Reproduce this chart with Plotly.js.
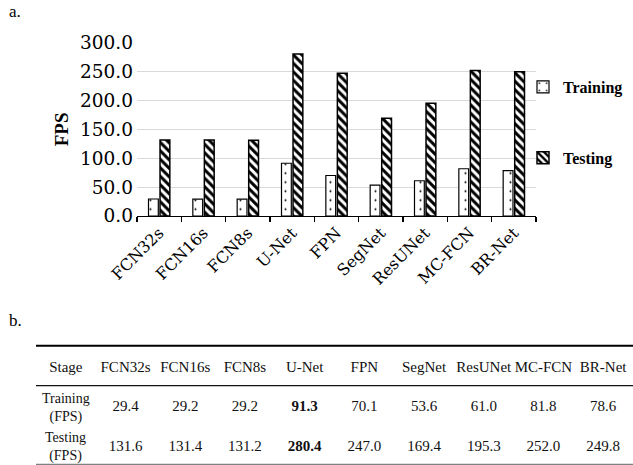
<!DOCTYPE html>
<html>
<head>
<meta charset="utf-8">
<script src="https://cdn.plot.ly/plotly-3.0.1.min.js"></script>
<style>html,body{margin:0;padding:0;background:#fff;}#chart{width:633px;height:465px;}</style>
</head>
<body>
<div id="chart"></div>
<script>
// ---- data ----
const models = ['FCN32s','FCN16s','FCN8s','U-Net','FPN','SegNet','ResUNet','MC-FCN','BR-Net'];
const trainingFPS = [29.4, 29.2, 29.2, 91.3, 70.1, 53.6, 61.0, 81.8, 78.6];
const testingFPS = [131.6, 131.4, 131.2, 280.4, 247.0, 169.4, 195.3, 252.0, 249.8];
const seriesNames = ['Training', 'Testing'];
const headerFirst = 'Stage';
const rowNames = ['Stage', 'Training', 'Testing'];
const unitLabel = '(FPS)';

// ---- layout helpers (pixel -> paper) ----
const W = 633, H = 465;
const px = x => x / W;
const py = y => 1 - y / H;

const serif = '"Liberation Serif", "Times New Roman", serif';
const wideSerif = '"DejaVu Serif", serif';

function fmtRow(vals) {
  const mx = Math.max(...vals);
  return vals.map(v => v === mx ? '<b>' + v.toFixed(1) + '</b>' : v.toFixed(1));
}

const traces = [
  {
    type: 'bar', name: seriesNames[0], x: models, y: trainingFPS,
    legendgroup: 'g1',
    marker: {
      color: '#ffffff',
      line: {color: '#000', width: 1.2},
      pattern: {shape: '.', size: 9, solidity: 0.04, fgcolor: '#000', bgcolor: '#ffffff'}
    },
    hoverinfo: 'skip'
  },
  {
    type: 'bar', name: seriesNames[1], x: models, y: testingFPS,
    legendgroup: 'g2',
    marker: {
      color: '#ffffff',
      line: {color: '#000', width: 1.5},
      pattern: {shape: '\\', size: 6, solidity: 0.5, fgcolor: '#000', bgcolor: '#ffffff'}
    },
    hoverinfo: 'skip'
  },
  // table: header row
  {
    type: 'scatter', mode: 'text', xaxis: 'x2', yaxis: 'y2',
    x: [headerFirst].concat(models),
    y: [headerFirst].concat(models).map(() => rowNames[0]),
    text: [headerFirst].concat(models),
    textfont: {family: serif, size: 15, color: '#111'},
    showlegend: false, hoverinfo: 'skip', cliponaxis: false
  },
  // table: training row
  {
    type: 'scatter', mode: 'text', xaxis: 'x2', yaxis: 'y2',
    x: models, y: models.map(() => rowNames[1]),
    text: fmtRow(trainingFPS),
    textfont: {family: serif, size: 15, color: '#111'},
    showlegend: false, hoverinfo: 'skip', cliponaxis: false
  },
  // table: testing row
  {
    type: 'scatter', mode: 'text', xaxis: 'x2', yaxis: 'y2',
    x: models, y: models.map(() => rowNames[2]),
    text: fmtRow(testingFPS),
    textfont: {family: serif, size: 15, color: '#111'},
    showlegend: false, hoverinfo: 'skip', cliponaxis: false
  }
];

const annotations = [
  {text: 'a.', xref: 'paper', yref: 'paper', x: px(7), y: py(12), xanchor: 'left', yanchor: 'middle',
   showarrow: false, font: {family: serif, size: 17, color: '#000'}},
  {text: 'b.', xref: 'paper', yref: 'paper', x: px(7), y: py(320), xanchor: 'left', yanchor: 'middle',
   showarrow: false, font: {family: serif, size: 17, color: '#000'}}
];
// row labels (two lines each)
[1, 2].forEach(r => {
  annotations.push({text: rowNames[r] + '<br>' + unitLabel, xref: 'x2', yref: 'y2', x: 0, y: r,
    showarrow: false, align: 'center', font: {family: serif, size: 14, color: '#111'}});
});

const shapes = [
  {type: 'line', xref: 'paper', yref: 'paper', x0: px(36), x1: 1, y0: py(345.7), y1: py(345.7),
   line: {color: '#000', width: 2}},
  {type: 'line', xref: 'paper', yref: 'paper', x0: px(36), x1: 1, y0: py(385.7), y1: py(385.7),
   line: {color: '#111', width: 1.2}},
  {type: 'line', xref: 'paper', yref: 'paper', x0: px(36), x1: 1, y0: py(464.3), y1: py(464.3),
   line: {color: '#808080', width: 1.2}}
];

const layout = {
  width: W, height: H,
  margin: {l: 0, r: 0, t: 0, b: 0},
  paper_bgcolor: '#fff', plot_bgcolor: 'rgba(0,0,0,0)',
  barmode: 'group', bargap: 0.48, bargroupgap: 0.15,
  showlegend: true,
  legend: {
    x: px(523), xanchor: 'left', y: py(70), yanchor: 'top',
    font: {family: serif, size: 16, color: '#000', weight: 'bold'},
    tracegroupgap: 47, bgcolor: 'rgba(0,0,0,0)', traceorder: 'grouped'
  },
  xaxis: {
    domain: [px(137), px(536)], anchor: 'y', type: 'category',
    showline: true, linecolor: '#000', linewidth: 1.3,
    ticks: 'outside', tickson: 'boundaries', ticklen: 5, tickcolor: '#000', tickwidth: 1.3,
    tickangle: -45, tickfont: {family: wideSerif, size: 16, color: '#000'},
    showgrid: false, zeroline: false, automargin: false, fixedrange: true
  },
  yaxis: {
    domain: [py(216), py(42.7)], anchor: 'x', range: [0, 300], dtick: 50, tickformat: '.1f',
    showgrid: true, gridcolor: '#d9d9d9', gridwidth: 1, zeroline: false, showline: false,
    ticks: '', tickfont: {family: wideSerif, size: 18.5, color: '#000'}, ticklabelstandoff: 3,
    title: {text: '<b>FPS</b>', font: {family: serif, size: 19, color: '#000'}, standoff: 6},
    automargin: false, fixedrange: true
  },
  xaxis2: {
    domain: [px(36), 1], anchor: 'y2', type: 'category',
    categoryarray: [headerFirst].concat(models), range: [-0.5, 9.5],
    visible: false, fixedrange: true
  },
  yaxis2: {
    domain: [0, py(345.7)], anchor: 'x2', type: 'category',
    categoryarray: rowNames, range: [2.456, -0.565],
    visible: false, fixedrange: true
  },
  annotations: annotations,
  shapes: shapes
};

Plotly.newPlot('chart', traces, layout, {displayModeBar: false, staticPlot: true});
</script>
</body>
</html>
